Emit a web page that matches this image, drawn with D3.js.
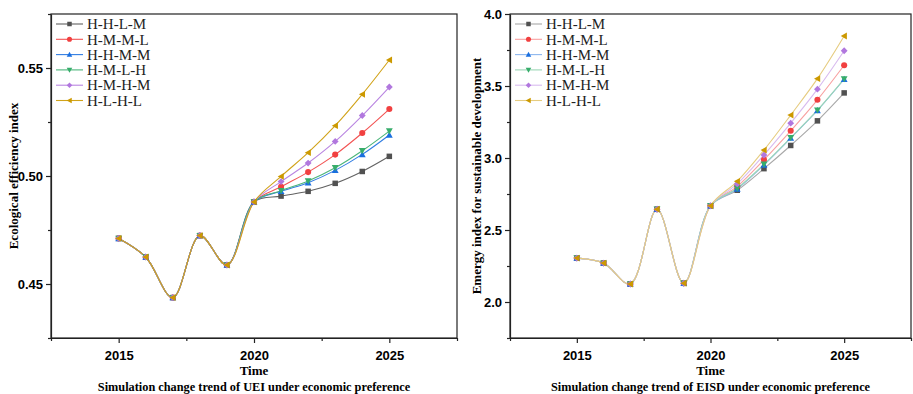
<!DOCTYPE html>
<html>
<head>
<meta charset="utf-8">
<script src="https://cdn.jsdelivr.net/npm/d3@7"></script>
<style>
  body { margin: 0; background: #fff; }
  svg { display: block; font-family: "Liberation Serif", "Times New Roman", serif; }
</style>
</head>
<body>
<svg id="chart" width="913" height="394"></svg>
<script>
const years = [2015, 2016, 2017, 2018, 2019, 2020, 2021, 2022, 2023, 2024, 2025];
const seriesNames = ["H-H-L-M", "H-M-M-L", "H-H-M-M", "H-M-L-H", "H-M-H-M", "H-L-H-L"];
const colors = ["#515151", "#F14040", "#1A6FDF", "#37AD6B", "#B177DE", "#CC9900"];
const symbols = ["square", "circle", "up", "down", "diamond", "left"];

// UEI (left panel)
const ueiHistory = [0.4711, 0.4625, 0.4437, 0.4724, 0.4588, 0.4880];
const ueiHHLM = [0.4907, 0.4929, 0.4966, 0.5021, 0.5091];
const ueiHMML = [0.4950, 0.5018, 0.5099, 0.5199, 0.5310];
const ueiHHMM = [0.4929, 0.4969, 0.5026, 0.5100, 0.5190];
const ueiHMLH = [0.4932, 0.4977, 0.5038, 0.5117, 0.5208];
const ueiHMHM = [0.4974, 0.5060, 0.5160, 0.5280, 0.5412];
const ueiHLHL = [0.4998, 0.5108, 0.5233, 0.5378, 0.5537];

// EISD (right panel)
const eisdHistory = [2.305, 2.270, 2.125, 2.644, 2.130, 2.668];
const eisdHHLM = [2.776, 2.926, 3.087, 3.258, 3.452];
const eisdHMML = [2.803, 2.988, 3.189, 3.404, 3.644];
const eisdHHMM = [2.785, 2.952, 3.138, 3.330, 3.547];
const eisdHMLH = [2.790, 2.956, 3.141, 3.332, 3.549];
const eisdHMHM = [2.820, 3.021, 3.242, 3.478, 3.745];
const eisdHLHL = [2.838, 3.055, 3.298, 3.551, 3.847];

const svg = d3.select("#chart");

function makeSeries(history, futures) {
  return futures.map(f => history.concat(f).map((v, i) => ({ year: years[i], value: v })));
}

function marker(g, type, color, size) {
  const s = size;
  if (type === "square") {
    g.append("rect").attr("x", -s / 2).attr("y", -s / 2).attr("width", s).attr("height", s).attr("fill", color);
  } else if (type === "circle") {
    g.append("circle").attr("r", s / 2 + 0.3).attr("fill", color);
  } else {
    const h = s * 0.62;
    const pts = {
      up: [[0, -h], [h, h * 0.8], [-h, h * 0.8]],
      down: [[0, h], [h, -h * 0.8], [-h, -h * 0.8]],
      left: [[-h, 0], [h * 0.8, -h], [h * 0.8, h]],
      diamond: [[0, -h], [h, 0], [0, h], [-h, 0]]
    }[type];
    g.append("polygon").attr("points", pts.map(p => p.join(",")).join(" ")).attr("fill", color);
  }
}

function panel(opts) {
  const { left, right, top, bottom, yDomain, yTicks, yMinor, yFormat, data, yLabel, caption, lighten, labelX } = opts;
  const x = d3.scaleLinear().domain([2012.5, 2027.5]).range([left, right]);
  const y = d3.scaleLinear().domain(yDomain).range([bottom, top]);
  const lineColor = c => d3.interpolateRgb(c, "#fff")(lighten);
  const g = svg.append("g");

  // frame
  g.append("rect").attr("x", left).attr("y", top).attr("width", right - left).attr("height", bottom - top)
    .attr("fill", "none").attr("stroke", "#222").attr("stroke-width", 1.2);

  // x axis
  const xAxis = g.append("g").attr("transform", `translate(0,${bottom})`)
    .call(d3.axisBottom(x).tickValues([2015, 2020, 2025]).tickFormat(d3.format("d")).tickSize(5).tickSizeOuter(0));
  g.append("g").attr("transform", `translate(0,${bottom})`)
    .call(d3.axisBottom(x).tickValues([2012.5, 2017.5, 2022.5, 2027.5]).tickFormat("").tickSize(3).tickSizeOuter(0))
    .select(".domain").remove();
  xAxis.selectAll("text").attr("font-size", 13).attr("font-weight", "bold").attr("fill", "#000").attr("dy", "1.05em");

  // y axis
  const yAxis = g.append("g").attr("transform", `translate(${left},0)`)
    .call(d3.axisLeft(y).tickValues(yTicks).tickFormat(yFormat).tickSize(5).tickSizeOuter(0));
  g.append("g").attr("transform", `translate(${left},0)`)
    .call(d3.axisLeft(y).tickValues(yMinor).tickFormat("").tickSize(3).tickSizeOuter(0))
    .select(".domain").remove();
  yAxis.selectAll("text").attr("font-size", 13).attr("font-weight", "bold").attr("fill", "#000");
  g.selectAll(".tick line, .domain").attr("stroke", "#222").attr("stroke-width", 1.2);

  // labels
  g.append("text").attr("x", (left + right) / 2).attr("y", bottom + 37).attr("text-anchor", "middle")
    .attr("font-size", 13).attr("font-weight", "bold").text("Time");
  g.append("text").attr("x", (left + right) / 2).attr("y", bottom + 53).attr("text-anchor", "middle")
    .attr("font-size", 12.3).attr("font-weight", "bold").text(caption);
  g.append("text").attr("transform", `translate(${labelX},${(top + bottom) / 2}) rotate(-90)`)
    .attr("text-anchor", "middle").attr("dy", "0.35em")
    .attr("font-size", 13).attr("font-weight", "bold").text(yLabel);

  // lines
  const line = d3.line().x(d => x(d.year)).y(d => y(d.value)).curve(d3.curveCatmullRom.alpha(0.5));
  data.forEach((s, i) => {
    g.append("path").datum(s).attr("d", line).attr("fill", "none")
      .attr("stroke", lineColor(colors[i])).attr("stroke-width", 1.1);
  });
  data.forEach((s, i) => {
    g.selectAll(null).data(s).enter().append("g")
      .attr("transform", d => `translate(${x(d.year)},${y(d.value)})`)
      .each(function () { marker(d3.select(this), symbols[i], colors[i], 5.5); });
  });

  // legend
  const lg = g.append("g").attr("transform", `translate(${left + 5},24)`);
  seriesNames.forEach((name, i) => {
    const row = lg.append("g").attr("transform", `translate(0,${i * 15.3})`);
    row.append("line").attr("x1", 0).attr("x2", 27).attr("stroke", lineColor(colors[i])).attr("stroke-width", 1.1);
    const m = row.append("g").attr("transform", "translate(13.5,0)");
    marker(m, symbols[i], colors[i], 4.5);
    row.append("text").attr("x", 31).attr("dy", "0.35em").attr("font-size", 15).attr("fill", "#222").text(name);
  });
}

panel({
  left: 51, right: 457, top: 14, bottom: 338,
  yDomain: [0.425, 0.575], yTicks: [0.45, 0.50, 0.55], yMinor: [0.425, 0.475, 0.525, 0.575],
  yFormat: d3.format(".2f"),
  data: makeSeries(ueiHistory, [ueiHHLM, ueiHMML, ueiHHMM, ueiHMLH, ueiHMHM, ueiHLHL]),
  yLabel: "Ecological efficiency index",
  caption: "Simulation change trend of UEI under economic preference",
  lighten: 0.1, labelX: 13
});

panel({
  left: 510, right: 911, top: 14, bottom: 338,
  yDomain: [1.75, 4.0], yTicks: [2.0, 2.5, 3.0, 3.5, 4.0], yMinor: [1.75, 2.25, 2.75, 3.25, 3.75],
  yFormat: d3.format(".1f"),
  data: makeSeries(eisdHistory, [eisdHHLM, eisdHMML, eisdHHMM, eisdHMLH, eisdHMHM, eisdHLHL]),
  yLabel: "Emergy index for sustainable development",
  caption: "Simulation change trend of EISD under economic preference",
  lighten: 0.5, labelX: 476
});
</script>
</body>
</html>
